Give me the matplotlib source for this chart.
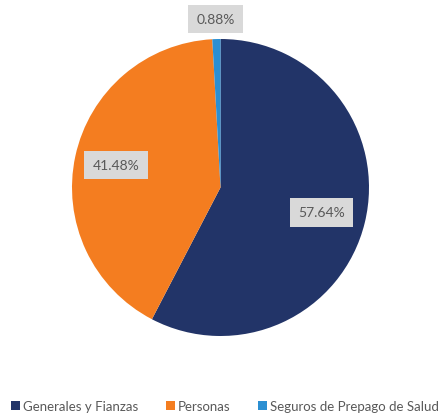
import matplotlib.pyplot as plt
from matplotlib.patches import Patch
import numpy as np

categories = ["Generales y Fianzas", "Personas", "Seguros de Prepago de Salud"]
shares = [57.64, 41.48, 0.88]
colors = ["#223468", "#F47D20", "#2B8FD2"]

W, H = 443, 414
fig = plt.figure(figsize=(W / 100, H / 100), dpi=100)
plt.rcParams['font.family'] = ['Lato', 'DejaVu Sans']

# pie area in pixels: center (220.5, 188.5), radius 148.5
r = 148.5
ax = fig.add_axes([(220.5 - r) / W, (H - 188.5 - r) / H, 2 * r / W, 2 * r / H])
wedges, _ = ax.pie(shares, colors=colors, startangle=90, counterclock=False,
                   radius=1, wedgeprops=dict(linewidth=0))
ax.set_xlim(-1, 1)
ax.set_ylim(-1, 1)
ax.set_aspect("equal")
ax.axis("off")

# label distances (fraction of radius)
label_dist = [0.70, 0.72, 1.135]
for w, v, d in zip(wedges, shares, label_dist):
    ang = np.deg2rad((w.theta1 + w.theta2) / 2)
    ax.text(d * np.cos(ang), d * np.sin(ang), f"{v:.2f}%", ha="center", va="center",
            fontsize=10, color="#595959", clip_on=False,
            bbox=dict(boxstyle="square,pad=0.6", fc="#D9D9D9", ec="none"))

handles = [Patch(facecolor=c, edgecolor="none") for c in colors]
fig.legend(handles, categories, loc="center", bbox_to_anchor=(225 / W, 1 - 407 / H),
           ncol=3, frameon=False, fontsize=9.5, labelcolor="#595959",
           handlelength=0.7, handleheight=0.7, handletextpad=0.2, columnspacing=2.1)

fig.savefig("out.png", dpi=100, facecolor="white")
